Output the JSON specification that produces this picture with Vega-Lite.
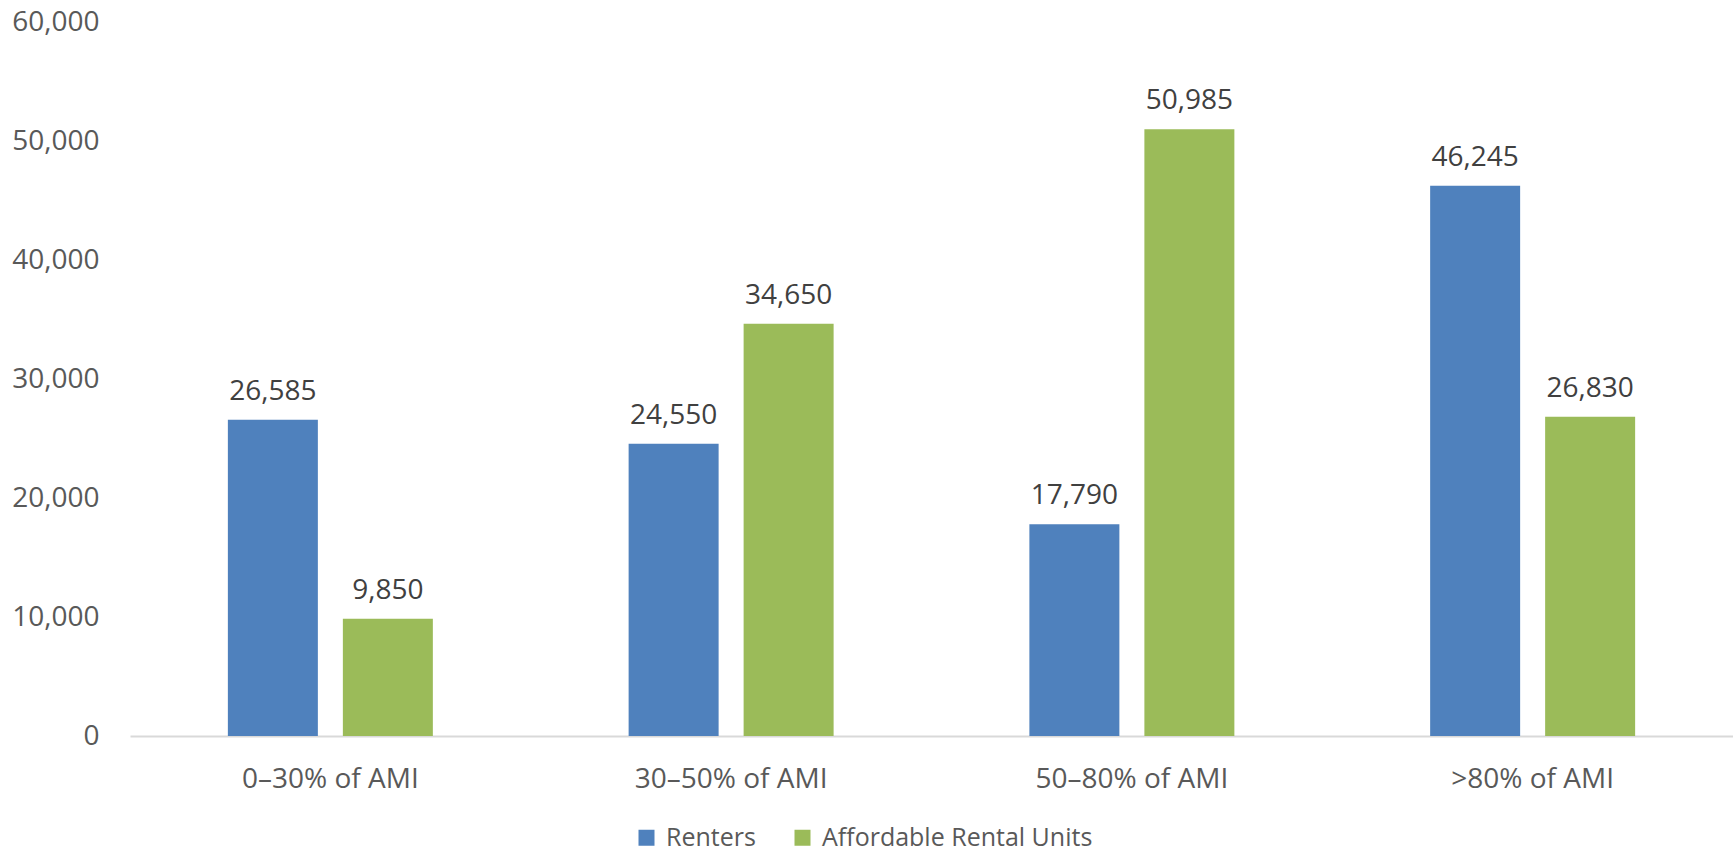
{
  "$schema": "https://vega.github.io/schema/vega-lite/v6.json",
  "autosize": {"type": "none"},
  "width": 1603,
  "height": 714,
  "padding": {"left": 130, "top": 22, "right": 0, "bottom": 116},
  "background": "white",
  "config": {
    "view": {"stroke": null},
    "font": "Open Sans"
  },
  "data": {
    "values": [
      {"category": "0–30% of AMI", "series": "Renters", "value": 26585},
      {"category": "0–30% of AMI", "series": "Affordable Rental Units", "value": 9850},
      {"category": "30–50% of AMI", "series": "Renters", "value": 24550},
      {"category": "30–50% of AMI", "series": "Affordable Rental Units", "value": 34650},
      {"category": "50–80% of AMI", "series": "Renters", "value": 17790},
      {"category": "50–80% of AMI", "series": "Affordable Rental Units", "value": 50985},
      {"category": ">80% of AMI", "series": "Renters", "value": 46245},
      {"category": ">80% of AMI", "series": "Affordable Rental Units", "value": 26830}
    ]
  },
  "encoding": {
    "x": {
      "field": "category",
      "type": "nominal",
      "sort": ["0–30% of AMI", "30–50% of AMI", "50–80% of AMI", ">80% of AMI"],
      "scale": {"paddingInner": 0.4885, "paddingOuter": 0.2442},
      "axis": {
        "title": null,
        "labelAngle": 0,
        "labelFontSize": 28,
        "labelColor": "#595959",
        "labelPadding": 29,
        "labelLimit": 0,
        "ticks": false,
        "domainColor": "#d9d9d9",
        "domainWidth": 2
      }
    },
    "xOffset": {
      "field": "series",
      "sort": ["Renters", "Affordable Rental Units"],
      "scale": {"paddingInner": 0.2174, "paddingOuter": 0}
    },
    "y": {
      "field": "value",
      "type": "quantitative",
      "scale": {"domain": [0, 60000], "nice": false},
      "axis": {
        "title": null,
        "values": [0, 10000, 20000, 30000, 40000, 50000, 60000],
        "labelExpr": "format(datum.value, ',')",
        "grid": false,
        "domain": false,
        "ticks": false,
        "labelFontSize": 28,
        "labelColor": "#595959",
        "labelPadding": 31,
        "labelFlush": false
      }
    }
  },
  "layer": [
    {
      "mark": {"type": "bar"},
      "encoding": {
        "color": {
          "field": "series",
          "type": "nominal",
          "scale": {"domain": ["Renters", "Affordable Rental Units"], "range": ["#4F81BD", "#9BBB59"]},
          "legend": {
            "title": null,
            "orient": "none",
            "direction": "horizontal",
            "legendX": 504,
            "legendY": 803,
            "padding": 0,
            "symbolType": "square",
            "symbolSize": 256,
            "symbolStrokeWidth": 0,
            "labelFontSize": 25,
            "labelColor": "#595959",
            "labelOffset": 7,
            "labelLimit": 0,
            "columnPadding": 34
          }
        }
      }
    },
    {
      "mark": {"type": "text", "baseline": "alphabetic", "dy": -20, "fontSize": 28, "color": "#404040"},
      "encoding": {
        "text": {"field": "value", "type": "quantitative", "format": ","}
      }
    }
  ]
}
